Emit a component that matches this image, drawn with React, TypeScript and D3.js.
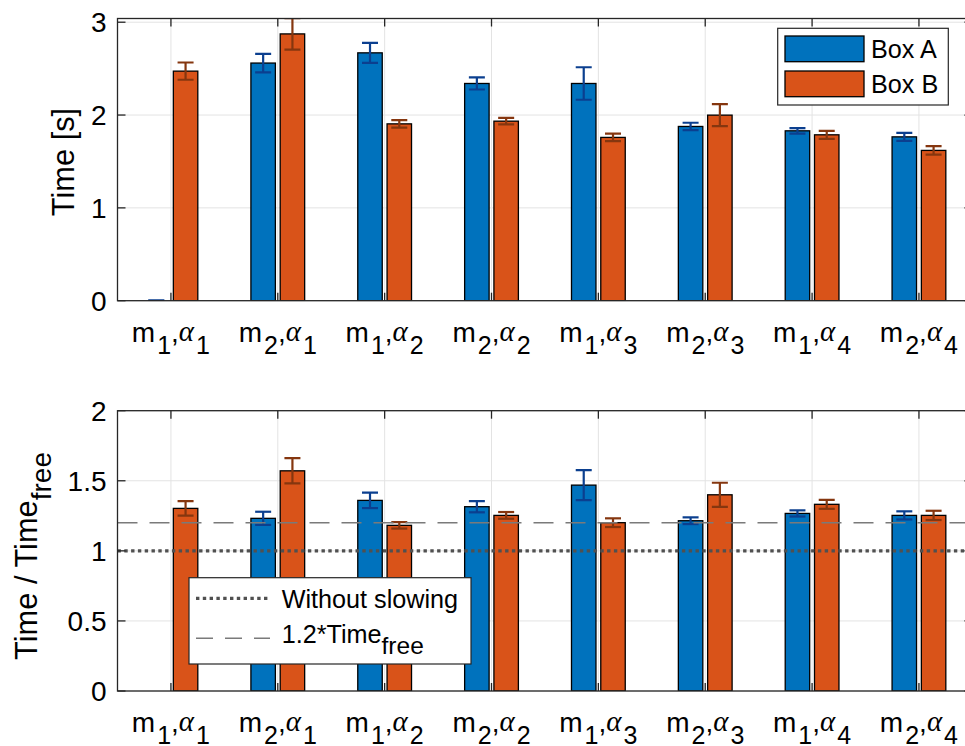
import React from "react";
import * as d3 from "d3";

// ---------- data ----------
const mIndex = ["1", "2", "1", "2", "1", "2", "1", "2"];
const alphaIndex = ["1", "1", "2", "2", "3", "3", "4", "4"];

const timeA: (number | null)[] = [0, 2.56, 2.67, 2.34, 2.34, 1.877, 1.83, 1.765];
const timeAErr = [0, 0.1, 0.107, 0.065, 0.175, 0.04, 0.03, 0.043];
const timeB: (number | null)[] = [2.473, 2.874, 1.905, 1.934, 1.759, 1.999, 1.787, 1.619];
const timeBErr = [0.093, 0.17, 0.04, 0.035, 0.04, 0.118, 0.043, 0.046];

const ratioA: (number | null)[] = [null, 1.232, 1.36, 1.315, 1.469, 1.215, 1.267, 1.253];
const ratioAErr = [0, 0.047, 0.055, 0.04, 0.107, 0.024, 0.022, 0.029];
const ratioB: (number | null)[] = [1.303, 1.571, 1.182, 1.253, 1.201, 1.4, 1.332, 1.253];
const ratioBErr = [0.052, 0.09, 0.023, 0.024, 0.031, 0.086, 0.032, 0.033];

const topTicks = [0, 1, 2, 3];
const bottomTicks = [0, 0.5, 1, 1.5, 2];
const refNoSlow = 1;
const refSlow = 1.2;

const seriesNames = ["Box A", "Box B"];
const lineNames = ["Without slowing", "1.2*Time", "free"];

// ---------- style ----------
const W = 965;
const H = 746;
const FONT = "'Liberation Sans', Arial, Helvetica, sans-serif";
const BLUE = "#0072BD";
const ORANGE = "#D95319";
const BLUE_ERR = "#0b3f8f";
const ORANGE_ERR = "#85360f";
const AXIS = "#262626";
const GRID = "#e3e3e3";

const x = d3.scaleLinear().domain([0.5, 8.5]).range([117.5, 117.5 + 8 * 106.86]);
const cats = d3.range(1, 9);
const OFFSET = 0.137;
const BARW = 0.229;
const CAP = 8;
const TICK = 8;

type PanelProps = {
  id: string;
  y: d3.ScaleLinear<number, number>;
  ticks: number[];
  a: (number | null)[];
  aErr: number[];
  b: (number | null)[];
  bErr: number[];
  children?: React.ReactNode;
};

function XLabel({ cx, y, i }: { cx: number; y: number; i: number }) {
  return (
    <text x={cx} y={y} textAnchor="middle" fontFamily={FONT} fontSize={28} fill="#000">
      <tspan>m</tspan>
      <tspan fontSize={25} dy={12} dx={2}>{mIndex[i]}</tspan>
      <tspan dy={-12}>,</tspan>
      <tspan fontFamily="'Liberation Serif', 'Times New Roman', serif" fontStyle="italic" fontSize={29} dy={-1}>
        α
      </tspan>
      <tspan fontSize={25} dy={13} dx={2}>{alphaIndex[i]}</tspan>
    </text>
  );
}

function Panel({ id, y, ticks, a, aErr, b, bErr, children }: PanelProps) {
  const [y0, y1] = y.range();
  const x0 = x.range()[0];
  const x1 = x.range()[1];
  const series = [
    { v: a, e: aErr, off: -OFFSET, fill: BLUE, err: BLUE_ERR },
    { v: b, e: bErr, off: OFFSET, fill: ORANGE, err: ORANGE_ERR },
  ];
  const bw = x(1 + BARW) - x(1);
  return (
    <g>
      <defs>
        <clipPath id={id}>
          <rect x={x0} y={y1} width={x1 - x0} height={y0 - y1} />
        </clipPath>
      </defs>
      {/* grid */}
      <g stroke={GRID} strokeWidth={1}>
        {cats.map((c) => (
          <line key={"gx" + c} x1={x(c)} x2={x(c)} y1={y0} y2={y1} />
        ))}
        {ticks.map((t) => (
          <line key={"gy" + t} x1={x0} x2={x1} y1={y(t)} y2={y(t)} />
        ))}
      </g>
      <g clipPath={`url(#${id})`}>
        {/* bars */}
        {series.map((s, si) =>
          s.v.map((v, i) =>
            v === null || v === 0 ? null : (
              <rect
                key={`b${si}-${i}`}
                x={x(cats[i] + s.off) - bw / 2}
                y={y(v)}
                width={bw}
                height={y(0) - y(v)}
                fill={s.fill}
                stroke="#000"
                strokeWidth={1.3}
              />
            )
          )
        )}
        {/* error bars */}
        {series.map((s, si) =>
          s.v.map((v, i) => {
            if (v === null) return null;
            const cx = x(cats[i] + s.off);
            const hi = y(v + s.e[i]);
            const lo = y(v - s.e[i]);
            return (
              <g key={`e${si}-${i}`} stroke={s.err} strokeWidth={2.2}>
                <line x1={cx} x2={cx} y1={hi} y2={lo} />
                <line x1={cx - CAP} x2={cx + CAP} y1={hi} y2={hi} />
                <line x1={cx - CAP} x2={cx + CAP} y1={lo} y2={lo} />
              </g>
            );
          })
        )}
        {children}
      </g>
      {/* axes box */}
      <rect x={x0} y={y1} width={x1 - x0} height={y0 - y1} fill="none" stroke={AXIS} strokeWidth={1.3} />
      <g stroke={AXIS} strokeWidth={1.3}>
        {cats.map((c) => (
          <g key={"tx" + c}>
            <line x1={x(c)} x2={x(c)} y1={y0} y2={y0 - TICK} />
            <line x1={x(c)} x2={x(c)} y1={y1} y2={y1 + TICK} />
          </g>
        ))}
        {ticks.map((t) => (
          <g key={"ty" + t}>
            <line x1={x0} x2={x0 + TICK} y1={y(t)} y2={y(t)} />
            <line x1={x1} x2={x1 - TICK} y1={y(t)} y2={y(t)} />
          </g>
        ))}
      </g>
      {/* tick labels */}
      {ticks.map((t) => (
        <text
          key={"yl" + t}
          x={x0 - 11}
          y={y(t) + 10}
          textAnchor="end"
          fontFamily={FONT}
          fontSize={28}
          fill="#000"
        >
          {String(t)}
        </text>
      ))}
      {cats.map((c, i) => (
        <XLabel key={"xl" + c} cx={x(c)} y={y0 + 41} i={i} />
      ))}
    </g>
  );
}

export default function App() {
  const yTop = d3.scaleLinear().domain([0, 3.04]).range([300.7, 18.5]);
  const yBot = d3.scaleLinear().domain([0, 2]).range([691, 410.7]);
  const x0 = x.range()[0];
  const x1 = x.range()[1];

  return (
    <svg
      width={W}
      height={H}
      viewBox={`0 0 ${W} ${H}`}
      style={{ position: "absolute", left: 0, top: 0, background: "#fff" }}
    >
      <rect x={0} y={0} width={W} height={H} fill="#fff" />

      {/* top panel */}
      <Panel id="clipTop" y={yTop} ticks={topTicks} a={timeA} aErr={timeAErr} b={timeB} bErr={timeBErr} />
      <text
        transform={`translate(74,162) rotate(-90)`}
        textAnchor="middle"
        fontFamily={FONT}
        fontSize={30.8}
        fill="#000"
      >
        Time [s]
      </text>
      {/* top legend */}
      <g>
        <rect x={777.7} y={28.3} width={170.6} height={76.7} fill="#fff" stroke={AXIS} strokeWidth={1.2} />
        <rect x={785} y={36} width={79} height={25.7} fill={BLUE} stroke="#000" strokeWidth={1.3} />
        <rect x={785} y={71} width={79} height={25.7} fill={ORANGE} stroke="#000" strokeWidth={1.3} />
        <text x={871} y={58} fontFamily={FONT} fontSize={25.2} fill="#000">
          {seriesNames[0]}
        </text>
        <text x={871} y={93} fontFamily={FONT} fontSize={25.2} fill="#000">
          {seriesNames[1]}
        </text>
      </g>

      {/* bottom panel */}
      <Panel id="clipBot" y={yBot} ticks={bottomTicks} a={ratioA} aErr={ratioAErr} b={ratioB} bErr={ratioBErr}>
        <line
          x1={x0}
          x2={x1}
          y1={yBot(refSlow)}
          y2={yBot(refSlow)}
          stroke="#7a7a7a"
          strokeWidth={1.4}
          strokeDasharray="20 12"
        />
        <line
          x1={x0}
          x2={x1}
          y1={yBot(refNoSlow)}
          y2={yBot(refNoSlow)}
          stroke="#505050"
          strokeWidth={3.2}
          strokeDasharray="3.4 3.4"
        />
      </Panel>
      <text
        transform={`translate(37,556) rotate(-90)`}
        textAnchor="middle"
        fontFamily={FONT}
        fontSize={30.8}
        fill="#000"
      >
        <tspan>Time / Time</tspan>
        <tspan dy={14} fontSize={28}>free</tspan>
      </text>
      {/* bottom legend */}
      <g>
        <rect x={189} y={577.7} width={282} height={86.3} fill="#fff" stroke={AXIS} strokeWidth={1.2} />
        <line x1={196} x2={270} y1={598.3} y2={598.3} stroke="#505050" strokeWidth={3.2} strokeDasharray="3.4 3.4" />
        <line x1={196} x2={270} y1={638.3} y2={638.3} stroke="#7a7a7a" strokeWidth={1.4} strokeDasharray="17 12" />
        <text x={281.7} y={607.5} fontFamily={FONT} fontSize={25.2} fill="#000">
          {lineNames[0]}
        </text>
        <text x={281.7} y={643} fontFamily={FONT} fontSize={25.2} fill="#000">
          <tspan>{lineNames[1]}</tspan>
          <tspan dy={10.5} fontSize={24.5}>{lineNames[2]}</tspan>
        </text>
      </g>
    </svg>
  );
}
